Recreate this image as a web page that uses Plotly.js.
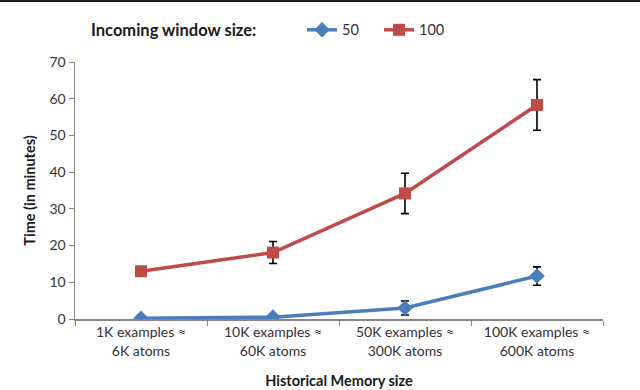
<!DOCTYPE html>
<html>
<head>
<meta charset="utf-8">
<script src="https://cdn.plot.ly/plotly-3.0.1.min.js"></script>
<style>
  html, body {margin: 0; padding: 0; background: #fff;}
  #chart {width: 640px; height: 388px; border-top: 2px solid #1a1a1a;}
</style>
</head>
<body>
<div id="chart"></div>
<script>
  const categories = [
    "1K examples ≈<br>6K atoms",
    "10K examples ≈<br>60K atoms",
    "50K examples ≈<br>300K atoms",
    "100K examples ≈<br>600K atoms"
  ]
  const seriesNames = ["50", "100"]
  const time50 = [0.2, 0.5, 3.0, 11.7]
  const err50 = [0, 0, 1.9, 2.5]
  const time100 = [13.0, 18.1, 34.2, 58.3]
  const err100 = [0, 3.0, 5.5, 6.9]

  const font = "Lato, 'Open Sans', sans-serif"
  const errStyle = arr => ({type: "data", array: arr, visible: true, color: "#000", thickness: 1.6, width: 4})

  const data = [
    {
      x: categories, y: time50, name: seriesNames[0], type: "scatter", mode: "lines+markers",
      line: {color: "#4a7ebb", width: 3.5},
      marker: {symbol: "diamond", size: 12, color: "#4a7ebb"},
      error_y: errStyle(err50)
    },
    {
      x: categories, y: time100, name: seriesNames[1], type: "scatter", mode: "lines+markers",
      line: {color: "#be4b48", width: 3.5},
      marker: {symbol: "square", size: 12, color: "#be4b48"},
      error_y: errStyle(err100)
    }
  ]

  const layout = {
    width: 640, height: 388,
    margin: {l: 75, r: 37, t: 60, b: 71, autoexpand: false},
    paper_bgcolor: "#fff", plot_bgcolor: "#fff",
    font: {family: font, size: 14, color: "#333"},
    showlegend: true,
    legend: {orientation: "h", x: 0.43, xanchor: "left", y: 1.125, yanchor: "middle", font: {size: 14.5, color: "#333"}, tracegroupgap: 0, entrywidth: 32, entrywidthmode: "pixels"},
    annotations: [{
      text: "<b>Incoming window size:</b>", xref: "paper", yref: "paper", x: 0.027, y: 1.125,
      xanchor: "left", yanchor: "middle", showarrow: false, font: {size: 16.5, color: "#1a1a1a"}
    }],
    xaxis: {
      type: "category", range: [-0.5, 3.5], tickson: "boundaries",
      showline: true, linecolor: "#868686", linewidth: 1.5,
      ticks: "outside", ticklen: 5, tickcolor: "#868686", showgrid: false, zeroline: false,
      tickfont: {size: 14, color: "#333"},
      title: {text: "<b>Historical Memory size</b>", font: {size: 14.5, color: "#1a1a1a"}, standoff: 18}
    },
    yaxis: {
      range: [0, 70], dtick: 10, showline: true, linecolor: "#868686", linewidth: 1.5,
      ticks: "outside", ticklen: 5, tickcolor: "#868686", showgrid: false, zeroline: false,
      tickfont: {size: 14, color: "#333"},
      title: {text: "<b>Time (in minutes)</b>", font: {size: 14.5, color: "#1a1a1a"}, standoff: 10}
    }
  }

  Plotly.newPlot("chart", data, layout, {displayModeBar: false, staticPlot: true})
</script>
</body>
</html>
